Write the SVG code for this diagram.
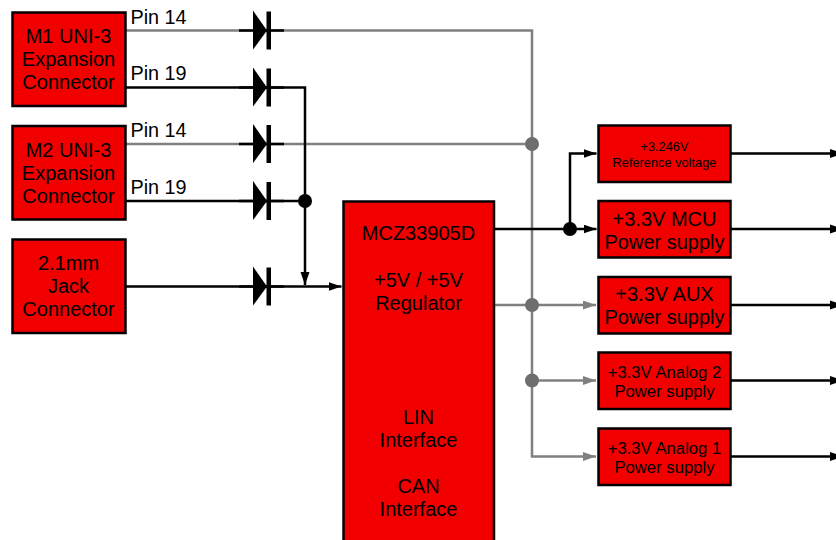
<svg xmlns="http://www.w3.org/2000/svg" width="836" height="540" viewBox="0 0 836 540">
<style>
.box{fill:#f20000;stroke:#000;stroke-width:2.5}
text{font-family:"Liberation Sans",Arial,sans-serif;fill:#000;text-anchor:middle}
.t18{font-size:20px}
.t14{font-size:16.700px}
.t11{font-size:12.800px}
.pin{font-size:19.800px;text-anchor:start}
.k{fill:none;stroke:#000;stroke-width:2.500}
.g{fill:none;stroke:#808080;stroke-width:2.500}
</style>
<defs>
<marker id="ak" markerUnits="userSpaceOnUse" markerWidth="14" markerHeight="10" refX="13" refY="4.500" orient="auto"><path d="M0 0L13 4.500L0 9Z" fill="#000"/></marker>
<marker id="ag" markerUnits="userSpaceOnUse" markerWidth="14" markerHeight="10" refX="13" refY="4.500" orient="auto"><path d="M0 0L13 4.500L0 9Z" fill="#808080"/></marker>
<g id="diode"><path d="M0 0H45" class="k"/><path d="M14 -20L14 19L28 0Z" fill="#000"/><rect x="27.500" y="-19" width="4.500" height="38" fill="#000"/></g>
</defs>
<g id="connectors">
<path class="g" d="M126 30.500H532V456.500H596" marker-end="url(#ag)"/>
<path class="g" d="M126 144H532"/>
<path class="g" d="M494 305H596" marker-end="url(#ag)"/>
<path class="g" d="M532 380.500H596" marker-end="url(#ag)"/>
<path class="k" d="M126 87.500H305V285" marker-end="url(#ak)"/>
<path class="k" d="M126 201H305"/>
<path class="k" d="M126 286.500H341.500" marker-end="url(#ak)"/>
<path class="k" d="M494 229H596.500" marker-end="url(#ak)"/>
<path class="k" d="M570 229V153.500H596.500" marker-end="url(#ak)"/>
<path class="k" d="M731 153.500H836M731 229H836M731 305H836M731 380.500H836M731 456.500H836"/>
<path d="M830 149V158L836 156V151Z" fill="#000"/>
<path d="M830 224.500V233.500L836 231.500V226.500Z" fill="#000"/>
<path d="M830 300.500V309.500L836 307.500V302.500Z" fill="#000"/>
<path d="M830 376V385L836 383V378Z" fill="#000"/>
<path d="M830 452V461L836 459V454Z" fill="#000"/>
<circle cx="305" cy="201" r="7" fill="#000"/>
<circle cx="570" cy="229" r="7" fill="#000"/>
<circle cx="532" cy="144" r="7" fill="#6e6e6e"/>
<circle cx="532" cy="305" r="7" fill="#6e6e6e"/>
<circle cx="532" cy="380.500" r="7" fill="#6e6e6e"/>
<use href="#diode" x="239" y="30.500"/>
<use href="#diode" x="239" y="87.500"/>
<use href="#diode" x="239" y="144"/>
<use href="#diode" x="239" y="201"/>
<use href="#diode" x="239" y="286.500"/>
</g>
<g id="m1"><rect class="box" x="12.500" y="12.500" width="113" height="93.500"/><text class="t18" x="68.500" y="43">M1 UNI-3</text><text class="t18" x="68.500" y="66">Expansion</text><text class="t18" x="68.500" y="89">Connector</text></g>
<g id="m2"><rect class="box" x="12.500" y="126" width="113" height="93.500"/><text class="t18" x="68.500" y="156.500">M2 UNI-3</text><text class="t18" x="68.500" y="179.500">Expansion</text><text class="t18" x="68.500" y="202.500">Connector</text></g>
<g id="jack"><rect class="box" x="12.500" y="239.500" width="113" height="93.500"/><text class="t18" x="68.500" y="270">2.1mm</text><text class="t18" x="68.500" y="293">Jack</text><text class="t18" x="68.500" y="316">Connector</text></g>
<g id="pins"><text class="pin" x="130.500" y="23.500">Pin 14</text><text class="pin" x="130.500" y="80">Pin 19</text><text class="pin" x="130.500" y="137">Pin 14</text><text class="pin" x="130.500" y="193.500">Pin 19</text></g>
<g id="mcz"><rect class="box" x="343.500" y="201.500" width="150.500" height="345"/><text class="t18" x="418.500" y="240">MCZ33905D</text><text class="t18" x="418.500" y="287">+5V / +5V</text><text class="t18" x="418.500" y="310">Regulator</text><text class="t18" x="418.500" y="424">LIN</text><text class="t18" x="418.500" y="447">Interface</text><text class="t18" x="418.500" y="493">CAN</text><text class="t18" x="418.500" y="515.500">Interface</text></g>
<g id="ref"><rect class="box" x="598.500" y="125.500" width="132" height="56.500"/><text class="t11" x="664.500" y="151">+3.246V</text><text class="t11" x="664.500" y="166.500">Reference voltage</text></g>
<g id="mcu"><rect class="box" x="598.500" y="201" width="132" height="56.500"/><text class="t18" x="664.500" y="225.500">+3.3V MCU</text><text class="t18" x="664.500" y="248.500">Power supply</text></g>
<g id="aux"><rect class="box" x="598.500" y="277" width="132" height="56.500"/><text class="t18" x="664.500" y="300.500">+3.3V AUX</text><text class="t18" x="664.500" y="323.500">Power supply</text></g>
<g id="an2"><rect class="box" x="598.500" y="352.500" width="132" height="56.500"/><text class="t14" x="664.500" y="378">+3.3V Analog 2</text><text class="t14" x="664.500" y="396.500">Power supply</text></g>
<g id="an1"><rect class="box" x="598.500" y="428.500" width="132" height="56.500"/><text class="t14" x="664.500" y="454">+3.3V Analog 1</text><text class="t14" x="664.500" y="472.500">Power supply</text></g>
</svg>
